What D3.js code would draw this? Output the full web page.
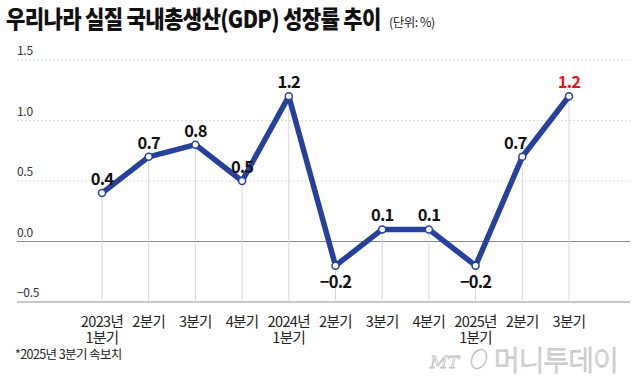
<!DOCTYPE html>
<html>
<head>
<meta charset="utf-8">
<script src="https://cdn.jsdelivr.net/npm/d3@7"></script>
<style>
  body { margin: 0; background: #fff; }
  svg { display: block; font-family: "Noto Sans CJK KR", "Noto Sans", sans-serif; }
</style>
</head>
<body>
<div id="chart"></div>
<script>
const quarters = [
  ["2023년", "1분기"], ["2분기"], ["3분기"], ["4분기"],
  ["2024년", "1분기"], ["2분기"], ["3분기"], ["4분기"],
  ["2025년", "1분기"], ["2분기"], ["3분기"]
];
const growth = [0.4, 0.7, 0.8, 0.5, 1.2, -0.2, 0.1, 0.1, -0.2, 0.7, 1.2];
const yTicks = [-0.5, 0.0, 0.5, 1.0, 1.5];

const width = 640, height = 384;

const svg = d3.select("#chart")
  .append("svg")
  .attr("width", width)
  .attr("height", height);

const x = d3.scalePoint()
  .domain(d3.range(growth.length))
  .range([102, 569]);

const y = d3.scaleLinear()
  .domain([-0.5, 1.5])
  .range([302, 60]);

const fmt = d => d < 0 ? "\u2212" + d3.format(".1f")(-d) : d3.format(".1f")(d);

// title (condensed look)
svg.append("text")
  .attr("transform", "translate(6,28) scale(0.88,1)")
  .attr("font-size", 24)
  .attr("font-weight", 900)
  .attr("letter-spacing", -0.8)
  .attr("fill", "#111")
  .text("우리나라 실질 국내총생산(GDP) 성장률 추이");

svg.append("text")
  .attr("x", 389)
  .attr("y", 27)
  .attr("font-size", 12.5)
  .attr("letter-spacing", -0.5)
  .attr("fill", "#222")
  .text("(단위: %)");

// horizontal grid
svg.append("g")
  .selectAll("line")
  .data(yTicks)
  .enter()
  .append("line")
  .attr("x1", 17)
  .attr("x2", 630)
  .attr("y1", d => y(d))
  .attr("y2", d => y(d))
  .attr("stroke", d => d === 0 ? "#8a8a8a" : (d === -0.5 ? "#c8c8c8" : "#dcdcdc"))
  .attr("stroke-width", d => d === -0.5 ? 2 : 1)
  .attr("stroke-dasharray", d => (d === 0 || d === -0.5) ? null : "2,2");

// y tick labels
svg.append("g")
  .selectAll("text")
  .data(yTicks)
  .enter()
  .append("text")
  .attr("x", 17)
  .attr("y", d => y(d) - 5)
  .attr("font-size", 12)
  .attr("letter-spacing", -0.3)
  .attr("fill", "#333")
  .text(fmt);

// drop lines
svg.append("g")
  .selectAll("line")
  .data(growth)
  .enter()
  .append("line")
  .attr("x1", (d, i) => x(i))
  .attr("x2", (d, i) => x(i))
  .attr("y1", d => y(d))
  .attr("y2", y(-0.5))
  .attr("stroke", "#d8d8d8")
  .attr("stroke-width", 1);

// x labels, one text per line
quarters.forEach((lines, i) => {
  lines.forEach((t, j) => {
    svg.append("text")
      .attr("x", x(i))
      .attr("y", 327 + j * 16)
      .attr("text-anchor", "middle")
      .attr("font-size", 14.5)
      .attr("letter-spacing", -0.6)
      .attr("fill", "#222")
      .text(t);
  });
});

// line
const line = d3.line()
  .x((d, i) => x(i))
  .y(d => y(d));

svg.append("path")
  .datum(growth)
  .attr("d", line)
  .attr("fill", "none")
  .attr("stroke", "#27419b")
  .attr("stroke-width", 5.5)
  .attr("stroke-linejoin", "round");

svg.append("g")
  .selectAll("circle")
  .data(growth)
  .enter()
  .append("circle")
  .attr("cx", (d, i) => x(i))
  .attr("cy", d => y(d))
  .attr("r", 3.5)
  .attr("fill", "#fff")
  .attr("stroke", "#27419b")
  .attr("stroke-width", 1.5);

// value labels (the 2025 2Q label sits a bit left of its point, off the line)
svg.append("g")
  .selectAll("text")
  .data(growth)
  .enter()
  .append("text")
  .attr("x", (d, i) => x(i) - (i === 9 ? 7 : 0))
  .attr("y", d => d < 0 ? y(d) + 22 : y(d) - 8)
  .attr("text-anchor", "middle")
  .attr("font-size", 16.5)
  .attr("font-weight", 700)
  .attr("letter-spacing", -0.8)
  .attr("fill", (d, i) => i === growth.length - 1 ? "#e3141f" : "#111")
  .text(fmt);

// footnote
svg.append("text")
  .attr("x", 15)
  .attr("y", 359)
  .attr("font-size", 12.5)
  .attr("letter-spacing", -0.6)
  .attr("fill", "#222")
  .text("*2025년 3분기 속보치");

// watermark
svg.append("text")
  .attr("x", 430)
  .attr("y", 368)
  .attr("font-size", 17)
  .attr("font-style", "italic")
  .attr("font-family", "'DejaVu Serif', serif")
  .attr("fill", "none")
  .attr("stroke", "#c4c4c4")
  .attr("stroke-width", 0.8)
  .text("MT");

svg.append("ellipse")
  .attr("cx", 479)
  .attr("cy", 359)
  .attr("rx", 7)
  .attr("ry", 10)
  .attr("fill", "none")
  .attr("stroke", "#c4c4c4")
  .attr("stroke-width", 1.5)
  .attr("transform", "rotate(25,479,359)");

svg.append("text")
  .attr("x", 494)
  .attr("y", 371)
  .attr("font-size", 28)
  .attr("font-weight", 300)
  .attr("letter-spacing", -1)
  .attr("fill", "none")
  .attr("stroke", "#c4c4c4")
  .attr("stroke-width", 1)
  .text("머니투데이");
</script>
</body>
</html>
